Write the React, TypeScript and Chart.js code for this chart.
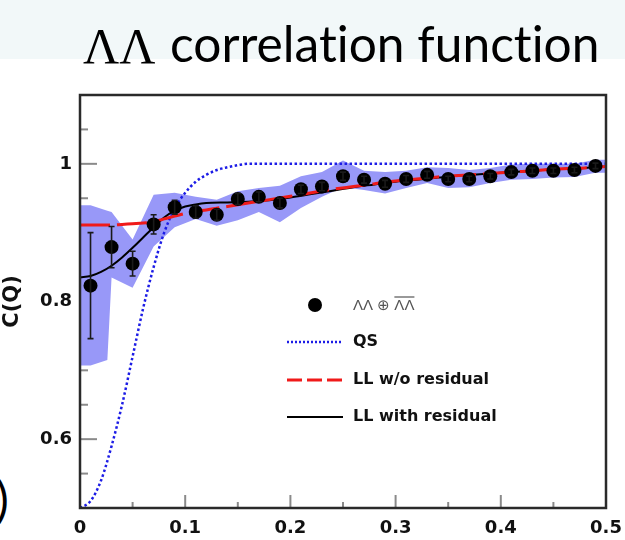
import React, { useEffect, useRef } from "react";
import { Chart, registerables } from "chart.js";

Chart.register(...registerables);

// ---- data ----
const pointQ = [0.01, 0.03, 0.05, 0.07, 0.09, 0.11, 0.13, 0.15, 0.17, 0.19, 0.21, 0.23, 0.25, 0.27, 0.29, 0.31, 0.33, 0.35, 0.37, 0.39, 0.41, 0.43, 0.45, 0.47, 0.49];
const pointC = [0.823, 0.879, 0.855, 0.912, 0.937, 0.93, 0.926, 0.949, 0.952, 0.943, 0.963, 0.967, 0.982, 0.977, 0.971, 0.978, 0.984, 0.978, 0.978, 0.982, 0.988, 0.99, 0.99, 0.991, 0.997];
const statErr = [0.077, 0.03, 0.018, 0.014, 0.01, 0.009, 0.008, 0.008, 0.007, 0.007, 0.006, 0.006, 0.006, 0.005, 0.005, 0.005, 0.005, 0.004, 0.004, 0.004, 0.004, 0.004, 0.004, 0.004, 0.004];

const bandQ = [0, 0.01, 0.026, 0.03, 0.05, 0.07, 0.09, 0.11, 0.13, 0.15, 0.17, 0.19, 0.21, 0.23, 0.25, 0.27, 0.29, 0.31, 0.33, 0.35, 0.37, 0.39, 0.41, 0.43, 0.45, 0.47, 0.49, 0.5];
const bandLow = [0.707, 0.707, 0.715, 0.835, 0.82, 0.88, 0.908, 0.92, 0.91, 0.918, 0.93, 0.915, 0.936, 0.952, 0.966, 0.962, 0.957, 0.965, 0.972, 0.965, 0.966, 0.972, 0.977, 0.978, 0.98, 0.981, 0.987, 0.987];
const bandHigh = [0.94, 0.94, 0.932, 0.93, 0.89, 0.955, 0.958, 0.952, 0.948, 0.96, 0.965, 0.968, 0.982, 0.988, 1.005, 0.99, 0.988, 0.99, 0.995, 0.994, 0.991, 0.994, 0.999, 1.0, 1.0, 1.0, 1.006, 1.006];

const qsQ = [0, 0.01, 0.02, 0.03, 0.04, 0.05, 0.06, 0.07, 0.08, 0.09, 0.1, 0.11, 0.12, 0.13, 0.14, 0.15, 0.16, 0.5];
const qsC = [0.5, 0.51, 0.54, 0.59, 0.65, 0.72, 0.79, 0.85, 0.9, 0.935, 0.958, 0.974, 0.984, 0.991, 0.995, 0.998, 1.0, 1.0];

const llQ = [0, 0.01, 0.02, 0.03, 0.04, 0.05, 0.06, 0.07, 0.08, 0.09, 0.1, 0.11, 0.12, 0.14, 0.16, 0.18, 0.2, 0.22, 0.24, 0.26, 0.28, 0.3, 0.32, 0.34, 0.36, 0.38, 0.4, 0.42, 0.44, 0.46, 0.48, 0.5];
const llNoResC = [0.911, 0.911, 0.911, 0.911, 0.912, 0.913, 0.914, 0.916, 0.92, 0.924, 0.928, 0.931, 0.933, 0.938, 0.943, 0.948, 0.953, 0.958, 0.963, 0.967, 0.971, 0.975, 0.978, 0.981, 0.983, 0.985, 0.987, 0.989, 0.991, 0.993, 0.994, 0.996];
const llResC = [0.835, 0.837, 0.843, 0.852, 0.864, 0.878, 0.893, 0.908, 0.922, 0.932, 0.938, 0.941, 0.943, 0.944, 0.945, 0.947, 0.951, 0.956, 0.961, 0.966, 0.97, 0.974, 0.977, 0.98, 0.983, 0.985, 0.987, 0.989, 0.991, 0.993, 0.994, 0.996];

const xTickValues = [0, 0.1, 0.2, 0.3, 0.4, 0.5];
const xTickLabels = ["0", "0.1", "0.2", "0.3", "0.4", "0.5"];
const yTickValues = [0.6, 0.8, 1];
const yTickLabels = ["0.6", "0.8", "1"];

const legendLabels = ["ΛΛ ⊕ ", "QS", "LL w/o residual", "LL with residual"];
const titleGreek = "ΛΛ";
const titleText = "correlation function";

const BLUE = "#1c1ce6";
const RED = "#f01a1a";
const BAND = "#9898f8";
const TICKFONT = '"DejaVu Sans", "Liberation Sans", sans-serif';

const findLabel = (v: number, vals: number[], labels: string[]) => {
  for (let i = 0; i < vals.length; i++) if (Math.abs(v - vals[i]) < 1e-6) return labels[i];
  return "";
};

const innerTicks = {
  id: "innerTicks",
  beforeDatasetsDraw(chart: any) {
    const { ctx, chartArea } = chart;
    const xs = chart.scales.x;
    const ys = chart.scales.y;
    ctx.save();
    ctx.strokeStyle = "#8a8a8a";
    ctx.lineWidth = 2;
    xs.ticks.forEach((t: any) => {
      const major = findLabel(t.value, xTickValues, xTickLabels) !== "";
      const px = xs.getPixelForValue(t.value);
      const len = major ? 13 : 6;
      ctx.beginPath();
      ctx.moveTo(px, chartArea.bottom);
      ctx.lineTo(px, chartArea.bottom - len);
      ctx.stroke();
    });
    ys.ticks.forEach((t: any) => {
      const major = findLabel(t.value, yTickValues, yTickLabels) !== "";
      const py = ys.getPixelForValue(t.value);
      const len = major ? 17 : 8;
      ctx.beginPath();
      ctx.moveTo(chartArea.left, py);
      ctx.lineTo(chartArea.left + len, py);
      ctx.stroke();
    });
    ctx.restore();
  },
};

const errorBars = {
  id: "errorBars",
  afterDatasetsDraw(chart: any) {
    const { ctx } = chart;
    const xs = chart.scales.x;
    const ys = chart.scales.y;
    ctx.save();
    ctx.strokeStyle = "#1a1a1a";
    ctx.lineWidth = 1.6;
    pointQ.forEach((q, i) => {
      const px = xs.getPixelForValue(q);
      const y1 = ys.getPixelForValue(pointC[i] - statErr[i]);
      const y2 = ys.getPixelForValue(pointC[i] + statErr[i]);
      ctx.beginPath();
      ctx.moveTo(px, y1);
      ctx.lineTo(px, y2);
      ctx.moveTo(px - 3, y1);
      ctx.lineTo(px + 3, y1);
      ctx.moveTo(px - 3, y2);
      ctx.lineTo(px + 3, y2);
      ctx.stroke();
    });
    ctx.restore();
  },
};

const frameAndLegend = {
  id: "frameAndLegend",
  afterDraw(chart: any) {
    const { ctx, chartArea } = chart;
    ctx.save();
    ctx.strokeStyle = "#2a2a2a";
    ctx.lineWidth = 2.5;
    ctx.strokeRect(chartArea.left, chartArea.top, chartArea.right - chartArea.left, chartArea.bottom - chartArea.top);

    const lx0 = chartArea.left + 207;
    const lx1 = chartArea.left + 263;
    const tx = chartArea.left + 273;
    const rows = [chartArea.top + 210, chartArea.top + 247, chartArea.top + 285, chartArea.top + 322];

    ctx.fillStyle = "#000";
    ctx.beginPath();
    ctx.arc(chartArea.left + 235, rows[0], 7, 0, Math.PI * 2);
    ctx.fill();

    ctx.textBaseline = "middle";
    ctx.textAlign = "left";
    ctx.font = '15px "Liberation Sans", sans-serif';
    ctx.fillStyle = "#555";
    ctx.fillText(legendLabels[0], tx, rows[0] + 1);
    const w0 = ctx.measureText(legendLabels[0]).width;
    ctx.fillText("ΛΛ", tx + w0, rows[0] + 1);
    const w1 = ctx.measureText("ΛΛ").width;
    ctx.strokeStyle = "#555";
    ctx.lineWidth = 1.2;
    ctx.beginPath();
    ctx.moveTo(tx + w0, rows[0] - 8);
    ctx.lineTo(tx + w0 + w1, rows[0] - 8);
    ctx.stroke();

    ctx.lineWidth = 2.5;
    ctx.strokeStyle = BLUE;
    ctx.setLineDash([2, 2]);
    ctx.beginPath();
    ctx.moveTo(lx0, rows[1]);
    ctx.lineTo(lx1, rows[1]);
    ctx.stroke();

    ctx.lineWidth = 3;
    ctx.strokeStyle = RED;
    ctx.setLineDash([15, 5]);
    ctx.beginPath();
    ctx.moveTo(lx0, rows[2]);
    ctx.lineTo(lx1, rows[2]);
    ctx.stroke();

    ctx.lineWidth = 2;
    ctx.strokeStyle = "#000";
    ctx.setLineDash([]);
    ctx.beginPath();
    ctx.moveTo(lx0, rows[3]);
    ctx.lineTo(lx1, rows[3]);
    ctx.stroke();

    ctx.font = "bold 16px " + TICKFONT;
    ctx.fillStyle = "#111";
    ctx.fillText(legendLabels[1], tx, rows[1]);
    ctx.fillText(legendLabels[2], tx, rows[2]);
    ctx.fillText(legendLabels[3], tx, rows[3]);
    ctx.restore();
  },
};

export default function App() {
  const ref = useRef<HTMLCanvasElement | null>(null);

  useEffect(() => {
    if (!ref.current) return;
    const xy = (xs: number[], ys: number[]) => xs.map((x, i) => ({ x, y: ys[i] }));
    const chart = new Chart(ref.current, {
      type: "line",
      data: {
        datasets: [
          {
            label: "band low",
            data: xy(bandQ, bandLow),
            borderWidth: 0,
            borderColor: "rgba(0,0,0,0)",
            pointRadius: 0,
            fill: false,
            order: 10,
          },
          {
            label: "band high",
            data: xy(bandQ, bandHigh),
            borderWidth: 0,
            borderColor: "rgba(0,0,0,0)",
            backgroundColor: BAND,
            pointRadius: 0,
            fill: "-1",
            order: 9,
          },
          {
            label: legendLabels[1],
            data: xy(qsQ, qsC),
            borderColor: BLUE,
            borderWidth: 2.5,
            borderDash: [2.5, 2.5],
            pointRadius: 0,
            fill: false,
            cubicInterpolationMode: "monotone",
            order: 5,
          },
          {
            label: legendLabels[2],
            data: xy(llQ, llNoResC),
            borderColor: RED,
            borderWidth: 3,
            borderDash: [30, 7],
            pointRadius: 0,
            fill: false,
            cubicInterpolationMode: "monotone",
            order: 3,
          },
          {
            label: legendLabels[3],
            data: xy(llQ, llResC),
            borderColor: "#000",
            borderWidth: 2,
            pointRadius: 0,
            fill: false,
            cubicInterpolationMode: "monotone",
            order: 4,
          },
          {
            label: legendLabels[0],
            data: xy(pointQ, pointC),
            showLine: false,
            pointRadius: 7,
            pointBackgroundColor: "#000",
            pointBorderWidth: 0,
            borderColor: "#000",
            order: 1,
          },
        ],
      },
      options: {
        animation: false,
        responsive: false,
        maintainAspectRatio: false,
        layout: { padding: { top: 95, right: 19, left: 0, bottom: 0 } },
        plugins: { legend: { display: false }, tooltip: { enabled: false }, title: { display: false } },
        scales: {
          x: {
            type: "linear",
            min: 0,
            max: 0.5,
            grid: { display: false, drawTicks: false },
            border: { display: false },
            ticks: {
              stepSize: 0.05,
              autoSkip: false,
              maxRotation: 0,
              padding: 10,
              color: "#111",
              font: { family: TICKFONT, size: 18, weight: "bold" },
              callback: (v: any) => findLabel(Number(v), xTickValues, xTickLabels),
            },
            afterFit: (s: any) => {
              s.height = 32;
              s.paddingLeft = 0;
              s.paddingRight = 0;
            },
          },
          y: {
            type: "linear",
            min: 0.5,
            max: 1.1,
            grid: { display: false, drawTicks: false },
            border: { display: false },
            title: {
              display: true,
              text: "C(Q)",
              color: "#111",
              padding: 0,
              font: { family: TICKFONT, size: 21, weight: "bold" },
            },
            ticks: {
              stepSize: 0.05,
              autoSkip: false,
              padding: 8,
              color: "#111",
              font: { family: TICKFONT, size: 18, weight: "bold" },
              callback: (v: any) => findLabel(Number(v), yTickValues, yTickLabels),
            },
            afterFit: (s: any) => {
              s.width = 80;
              s.paddingTop = 0;
              s.paddingBottom = 0;
            },
          },
        },
      },
      plugins: [innerTicks, errorBars, frameAndLegend],
    } as any);
    return () => chart.destroy();
  }, []);

  return (
    <div style={{ position: "absolute", left: 0, top: 0, width: 625, height: 540, background: "#fff", overflow: "hidden" }}>
      <div style={{ position: "absolute", left: 0, top: 0, width: 625, height: 59, background: "#f2f8f9" }} />
      <div
        style={{
          position: "absolute",
          left: 83,
          top: 21,
          fontFamily: '"Liberation Serif", serif',
          fontSize: 50,
          lineHeight: 1,
          color: "#000",
          whiteSpace: "nowrap",
        }}
      >
        {titleGreek}
      </div>
      <div
        style={{
          position: "absolute",
          left: 170,
          top: 19,
          fontFamily: "Lato, sans-serif",
          fontSize: 49.7,
          lineHeight: 1,
          color: "#000",
          whiteSpace: "nowrap",
          fontVariantLigatures: "none",
          fontFeatureSettings: '"liga" 0',
        }}
      >
        {titleText}
      </div>
      <div
        style={{
          position: "absolute",
          left: -4,
          top: 475,
          fontFamily: "Lato, sans-serif",
          fontSize: 48,
          lineHeight: 1,
          color: "#000",
        }}
      >
        )
      </div>
      <canvas ref={ref} width={625} height={540} style={{ position: "absolute", left: 0, top: 0 }} />
    </div>
  );
}
